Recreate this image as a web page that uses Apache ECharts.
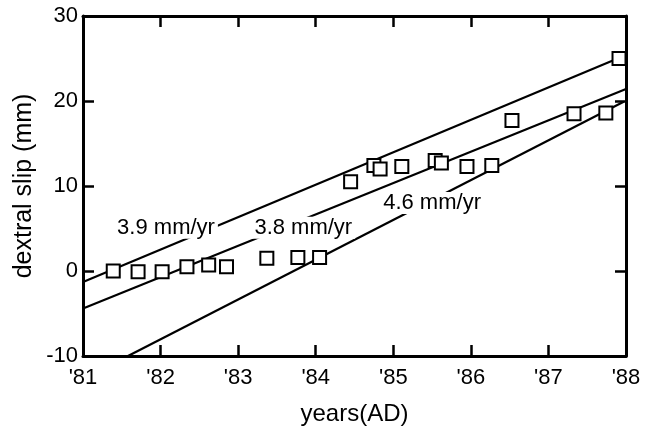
<!DOCTYPE html>
<html>
<head>
<meta charset="utf-8">
<script src="https://cdn.jsdelivr.net/npm/echarts@6/dist/echarts.min.js"></script>
<style>
  html, body { margin: 0; padding: 0; background: #fff; }
  #chart { width: 648px; height: 431px; }
</style>
</head>
<body>
<div id="chart"></div>
<script>
// measured points (year AD, dextral slip in mm)
const years = [81.39, 81.71, 82.02, 82.34, 82.62, 82.85, 83.37, 83.77, 84.05,
    84.45, 84.75, 84.83, 85.11, 85.54, 85.62, 85.95, 86.27, 86.53, 87.33, 87.74, 87.91];
const slip = [0.0, -0.1, -0.1, 0.5, 0.7, 0.5, 1.5, 1.6, 1.6,
    10.5, 12.4, 12.0, 12.3, 13.0, 12.7, 12.3, 12.4, 17.7, 18.5, 18.6, 25.0];

// fitted rate lines: [start, end] as [year, slip]
const fit39 = [[81, -1.3], [88, 25.4]];
const fit38 = [[81, -4.4], [88, 21.4]];
const fit46 = [[81.58, -10], [87.97, 19.9]];

// rate annotations
const rateLabels = ['3.9 mm/yr', '3.8 mm/yr', '4.6 mm/yr'];
const labelYears = [82.07, 83.84, 85.5];
const labelSlip = [5.1, 5.1, 8.0];

// axis ticks
const xTicks = [81, 82, 83, 84, 85, 86, 87, 88];
const yTicks = [-10, 0, 10, 20, 30];

const FONT = '"Liberation Sans", Arial, sans-serif';

const chart = echarts.init(document.getElementById('chart'));

const axisLine = { show: true, onZero: false, lineStyle: { color: '#000', width: 3 } };
const axisTick = { show: true, inside: true, length: 11, lineStyle: { color: '#000', width: 2.5 } };

function xAxisBase(pos) {
    return {
        type: 'value',
        position: pos,
        min: xTicks[0],
        max: xTicks[xTicks.length - 1],
        interval: 1,
        axisLine: axisLine,
        axisTick: axisTick,
        splitLine: { show: false }
    };
}
function yAxisBase(pos) {
    return {
        type: 'value',
        position: pos,
        min: yTicks[0],
        max: yTicks[yTicks.length - 1],
        interval: 10,
        axisLine: axisLine,
        axisTick: axisTick,
        splitLine: { show: false }
    };
}

const fitLine = (data) => ({
    type: 'line',
    data: data,
    symbol: 'none',
    silent: true,
    z: 2,
    lineStyle: { color: '#000', width: 2.2 }
});

const option = {
    animation: false,
    backgroundColor: '#fff',
    grid: { left: 83, right: 22, top: 16, bottom: 75 },
    xAxis: [
        Object.assign(xAxisBase('bottom'), {
            name: 'years(AD)',
            nameLocation: 'middle',
            nameGap: 46,
            nameTextStyle: { fontFamily: FONT, fontSize: 24, color: '#000' },
            axisLabel: {
                margin: 11,
                fontFamily: FONT,
                fontSize: 22,
                color: '#000',
                formatter: v => "'" + v
            }
        }),
        Object.assign(xAxisBase('top'), { axisLabel: { show: false } })
    ],
    yAxis: [
        Object.assign(yAxisBase('left'), {
            name: 'dextral slip (mm)',
            nameLocation: 'middle',
            nameGap: 46,
            nameMoveOverlap: false,
            nameTextStyle: { fontFamily: FONT, fontSize: 25, color: '#000' },
            axisLabel: {
                margin: 5,
                fontFamily: FONT,
                fontSize: 22,
                color: '#000'
            }
        }),
        Object.assign(yAxisBase('right'), { axisLabel: { show: false } })
    ],
    series: [
        fitLine(fit39),
        fitLine(fit38),
        fitLine(fit46),
        {
            type: 'scatter',
            data: years.map((y, i) => [y, slip[i]]),
            symbol: 'rect',
            symbolSize: 13,
            z: 3,
            itemStyle: { color: '#fff', borderColor: '#000', borderWidth: 2, opacity: 1 }
        },
        {
            type: 'scatter',
            data: labelYears.map((y, i) => ({ value: [y, labelSlip[i]], name: rateLabels[i] })),
            symbolSize: 0,
            silent: true,
            z: 5,
            itemStyle: { opacity: 1 },
            label: {
                show: true,
                position: 'inside',
                formatter: p => p.name,
                fontFamily: FONT,
                fontSize: 22,
                color: '#000',
                backgroundColor: '#fff',
                padding: [0, 3]
            }
        }
    ]
};

chart.setOption(option);
</script>
</body>
</html>
